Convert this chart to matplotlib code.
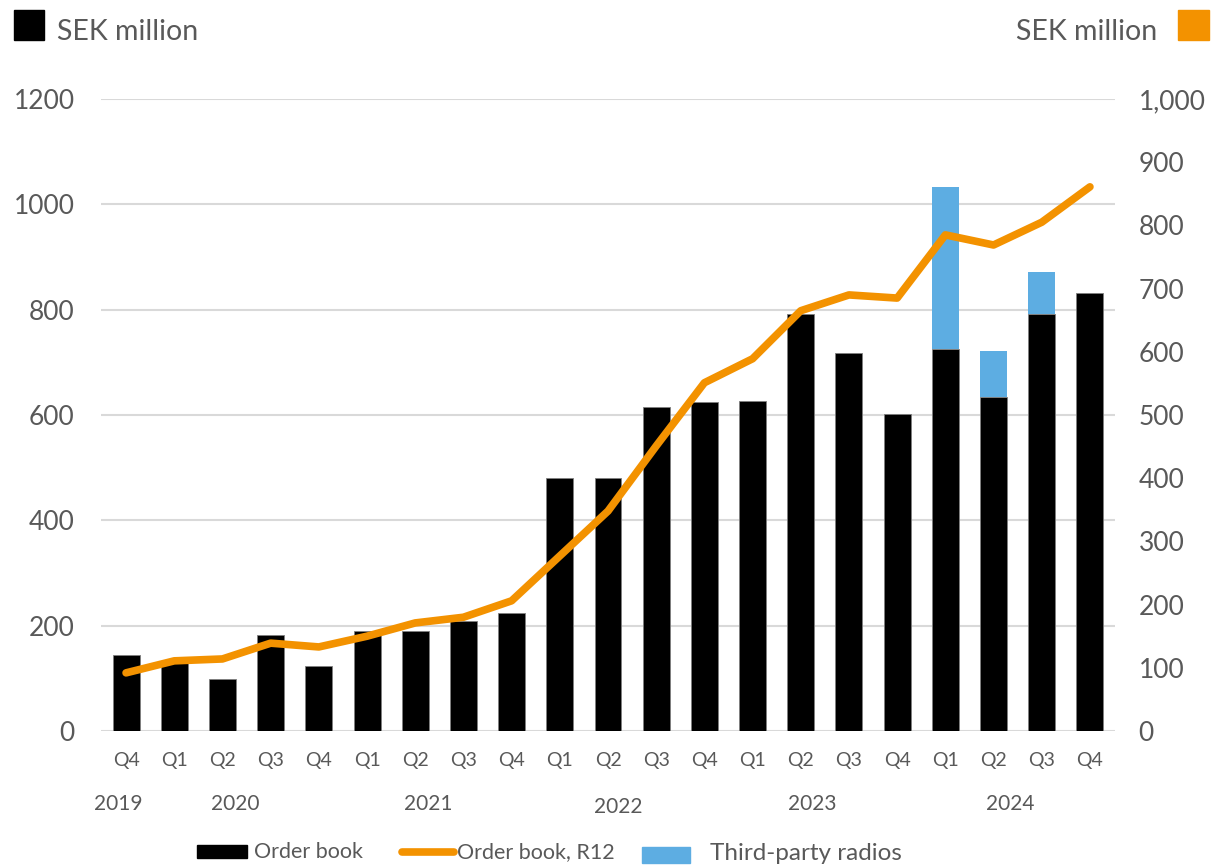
import matplotlib
matplotlib.use("Agg")
import matplotlib.pyplot as plt
from matplotlib.patches import Rectangle
from matplotlib.lines import Line2D

plt.rcParams['font.family'] = ['Lato', 'DejaVu Sans']

quarters = ["Q4", "Q1", "Q2", "Q3", "Q4", "Q1", "Q2", "Q3", "Q4", "Q1", "Q2",
            "Q3", "Q4", "Q1", "Q2", "Q3", "Q4", "Q1", "Q2", "Q3", "Q4"]
years = ["2019", "2020", "2021", "2022", "2023", "2024"]
order_book = [144, 130, 99, 182, 123, 190, 190, 209, 224, 480, 480,
              615, 625, 627, 792, 718, 602, 725, 634, 792, 832]
third_party = [0, 0, 0, 0, 0, 0, 0, 0, 0, 0, 0,
               0, 0, 0, 0, 0, 0, 308, 87, 79, 0]
order_book_r12 = [92, 111, 114, 139, 133, 150, 171, 180, 206, 277, 348,
                  451, 551, 589, 665, 690, 685, 785, 769, 805, 861]

W, H = 1212, 865
BLACK = "#000000"
ORANGE = "#F39200"
BLUE = "#5DADE2"
GREY_TXT = "#595959"
GRID = "#D9D9D9"

fig = plt.figure(figsize=(W / 100, H / 100), dpi=100)
ax = fig.add_axes([101 / W, 1 - 731 / H, (1115 - 101) / W, (731 - 99) / H])
ax2 = ax.twinx()

x = list(range(len(quarters)))
ax.bar(x, order_book, width=0.56, color=BLACK, edgecolor="#7f7f7f", linewidth=0.6, zorder=2)
ax.bar(x, third_party, width=0.56, bottom=order_book, color=BLUE, linewidth=0, zorder=2)

ax2.plot(x, order_book_r12, color=ORANGE, linewidth=5.5, solid_capstyle="round",
         solid_joinstyle="round", zorder=3)

ax.set_xlim(-0.52, 20.52)
ax.set_ylim(0, 1200)
ax2.set_ylim(0, 1000)
ax.set_yticks(range(0, 1201, 200))
ax2.set_yticks(range(0, 1001, 100))
ax2.set_yticklabels([f"{v:,}" for v in range(0, 1001, 100)])

ax.grid(axis="y", color=GRID, linewidth=1.5, zorder=0)
ax.set_axisbelow(True)
for a in (ax, ax2):
    for s in a.spines.values():
        s.set_visible(False)
    a.tick_params(length=0, colors=GREY_TXT, labelsize=19)
ax.tick_params(axis="y", pad=19)
ax2.tick_params(axis="y", pad=17)

ax.set_xticks(x)
ax.set_xticklabels(quarters, fontsize=14, color=GREY_TXT)
ax.tick_params(axis="x", pad=15)

# year labels below the quarter ticks
year_pos = [(118, 804), (235, 804), (428, 804), (618, 807), (812, 804), (1010, 804)]
for label, (px, py) in zip(years, year_pos):
    fig.text(px / W, 1 - py / H, label, fontsize=15, color=GREY_TXT,
             ha="center", va="center")

# axis unit headers
fig.patches.append(Rectangle((14 / W, 1 - 40 / H), 30 / W, 30 / H,
                             transform=fig.transFigure, color=BLACK))
fig.text(57 / W, 1 - 32 / H, "SEK million", fontsize=20.5, color=GREY_TXT, va="center")
fig.patches.append(Rectangle((1178 / W, 1 - 40 / H), 31 / W, 30 / H,
                             transform=fig.transFigure, color=ORANGE))
fig.text(1157 / W, 1 - 32 / H, "SEK million", fontsize=20.5, color=GREY_TXT,
         va="center", ha="right")

# legend
fig.patches.append(Rectangle((197 / W, 1 - 858 / H), 50 / W, 13 / H,
                             transform=fig.transFigure, color=BLACK))
fig.text(254 / W, 1 - 852 / H, "Order book", fontsize=15.5, color=GREY_TXT, va="center")
fig.lines.append(Line2D([402 / W, 454 / W], [1 - 852 / H, 1 - 852 / H],
                        transform=fig.transFigure, color=ORANGE, linewidth=5.5,
                        solid_capstyle="round"))
fig.text(457 / W, 1 - 852 / H, "Order book, R12", fontsize=15.5, color=GREY_TXT, va="center")
fig.patches.append(Rectangle((642 / W, 1 - 863 / H), 48 / W, 16 / H,
                             transform=fig.transFigure, color=BLUE))
fig.text(710 / W, 1 - 853 / H, "Third-party radios", fontsize=17.5, color=GREY_TXT, va="center")

fig.savefig("out.png", dpi=100)
